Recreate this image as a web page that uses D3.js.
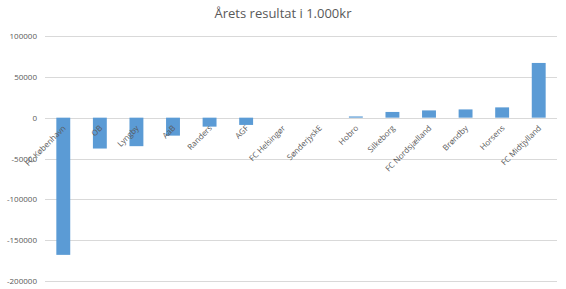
<!DOCTYPE html>
<html lang="da">
  <head>
    <meta charset="utf-8">
    <title>Årets resultat</title>
    <style>
      body { margin: 0; background: #fff; }
      text { font-family: "Open Sans", sans-serif; fill: #595959; }
      .grid line { stroke: #d9d9d9; stroke-width: 1px; }
    </style>
  </head>
  <body>
    <svg width="566" height="289"></svg>
    <script src="https://d3js.org/d3.v7.min.js"></script>
    <script>
    var clubs = ["FC København", "OB", "Lyngby", "AaB", "Randers", "AGF", "FC Helsingør",
                 "SønderjyskE", "Hobro", "Silkeborg", "FC Nordsjælland", "Brøndby", "Horsens", "FC Midtjylland"];
    var result = [-168000, -37800, -34900, -22000, -11000, -8900, 0,
                  0, 1500, 7000, 8900, 10100, 12600, 67000];
    var yTicks = [100000, 50000, 0, -50000, -100000, -150000, -200000];

    var svg = d3.select("svg");
    var plotLeft = 45, plotRight = 557, plotTop = 36, plotBottom = 281;

    var x = d3.scaleBand().domain(clubs).range([plotLeft, plotRight]).paddingInner(0.62).paddingOuter(0.31);
    var y = d3.scaleLinear().domain([-200000, 100000]).range([plotBottom, plotTop]);

    // title
    svg.append("text")
      .attr("x", 283).attr("y", 18)
      .attr("text-anchor", "middle")
      .style("font-size", "13px")
      .text("Årets resultat i 1.000kr");

    // gridlines
    svg.append("g").attr("class", "grid")
      .selectAll("line").data(yTicks).enter().append("line")
      .attr("x1", plotLeft).attr("x2", plotRight)
      .attr("y1", function(d) { return Math.round(y(d)) + 0.5; })
      .attr("y2", function(d) { return Math.round(y(d)) + 0.5; });

    // y axis labels
    svg.append("g").selectAll("text").data(yTicks).enter().append("text")
      .attr("x", 37)
      .attr("y", function(d) { return y(d) + 3; })
      .attr("text-anchor", "end")
      .style("font-size", "8px")
      .text(function(d) { return d; });

    // bars
    svg.append("g").selectAll("rect").data(clubs).enter().append("rect")
      .attr("x", function(d) { return x(d); })
      .attr("width", x.bandwidth())
      .attr("y", function(d, i) { return y(Math.max(0, result[i])); })
      .attr("height", function(d, i) { return Math.abs(y(result[i]) - y(0)); })
      .attr("fill", "#5b9bd5");

    // category labels, rotated along the zero line
    svg.append("g").selectAll("text").data(clubs).enter().append("text")
      .attr("transform", function(d) {
        return "translate(" + (x(d) + x.bandwidth() / 2 + 3) + "," + (y(0) + 11) + ") rotate(-45)";
      })
      .attr("text-anchor", "end")
      .style("font-size", "8px")
      .text(function(d) { return d; });
    </script>
  </body>
</html>
